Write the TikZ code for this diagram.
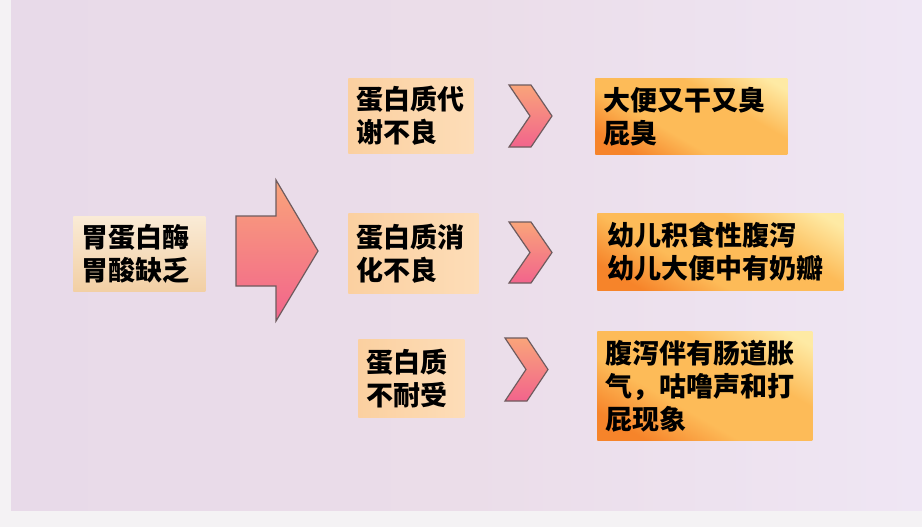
\documentclass[tikz,border=0pt]{standalone}
\usepackage{fontspec}
\newfontfamily\cjk{Noto Sans CJK SC}
\usetikzlibrary{positioning}

\definecolor{pagegray}{HTML}{F4F2F4}
\definecolor{bgleft}{HTML}{E8DAE9}
\definecolor{bgmid}{HTML}{EBDDE9}
\definecolor{bgright}{HTML}{EFE6F4}
\definecolor{causetop}{HTML}{FAEBD6}
\definecolor{causebot}{HTML}{F2CFA4}
\definecolor{midleft}{HTML}{FBD0A0}
\definecolor{midright}{HTML}{FDDDB8}
\definecolor{efftop}{HTML}{FEEAA4}
\definecolor{effmid}{HTML}{FDBB58}
\definecolor{effbot}{HTML}{F6842A}
\definecolor{arrtop}{HTML}{F9A47A}
\definecolor{arrbot}{HTML}{F2648C}
\definecolor{arrline}{HTML}{6E5B5E}

\pgfdeclareverticalshading{effshade}{100bp}{color(0bp)=(effbot); color(24bp)=(effbot);
  color(40bp)=(effmid); color(62bp)=(effmid); color(80bp)=(efftop); color(100bp)=(efftop)}

\begin{document}
\begin{tikzpicture}[x=0.5pt,y=-0.5pt,
box/.style={rectangle,anchor=north west,inner xsep=4pt,inner ysep=0pt,align=left,
    font=\cjk\bfseries\fontsize{13.5pt}{16.5pt}\selectfont},
causebox/.style={box,top color=causetop,bottom color=causebot},
midbox/.style={box,left color=midleft,right color=midright},
effbox/.style={box,shade,shading=effshade,shading angle=-30},
arrowshape/.style={draw=arrline,line width=0.6pt,line join=miter,top color=arrtop,bottom color=arrbot}]
\useasboundingbox (0,0) rectangle (922,527);
\fill[pagegray] (0,0) rectangle (922,527);
\shade[left color=bgleft,right color=bgright,middle color=bgmid] (11,0) rectangle (922,510);

% cause and big arrow
\node (cause) [causebox,minimum width=66pt,minimum height=37.5pt,text width=58pt] at (73,216) {胃蛋白酶\\胃酸缺乏};
\path[arrowshape] (236,216) -- (276,216) -- (276,180) -- (318,251) -- (276,321) -- (276,286) -- (236,286) -- cycle;

% middle column
\node (metab) [midbox,minimum width=62.5pt,minimum height=37.5pt,text width=54.5pt] at (348,78) {蛋白质代\\谢不良};
\node (digest) [midbox,minimum width=65pt,minimum height=40pt,text width=57pt] at (348,213) {蛋白质消\\化不良};
\node (intol) [midbox,minimum width=53pt,minimum height=39pt,text width=45pt] at (358,339) {蛋白质\\不耐受};

% chevrons
\foreach \x/\y/\h in {509/85/62, 509/222/61, 505/338/63}
  \path[arrowshape] (\x,\y) -- ++(22,0) -- ++(21,\h/2) -- ++(-21,\h/2) -- ++(-22,0) -- ++(21,-\h/2) -- cycle;

% effects
\node (stool) [effbox,minimum width=96pt,minimum height=38pt,text width=88pt] at (595,78) {大便又干又臭\\屁臭};
\node (curd) [effbox,minimum width=122.5pt,minimum height=38.5pt,text width=113pt,inner xsep=5pt] at (597,213) {幼儿积食性腹泻\\幼儿大便中有奶瓣};
\node (gas) [effbox,minimum width=107.5pt,minimum height=54.5pt,text width=99.5pt] at (597,331) {腹泻伴有肠道胀\\气，咕噜声和打\\屁现象};
\end{tikzpicture}
\end{document}
